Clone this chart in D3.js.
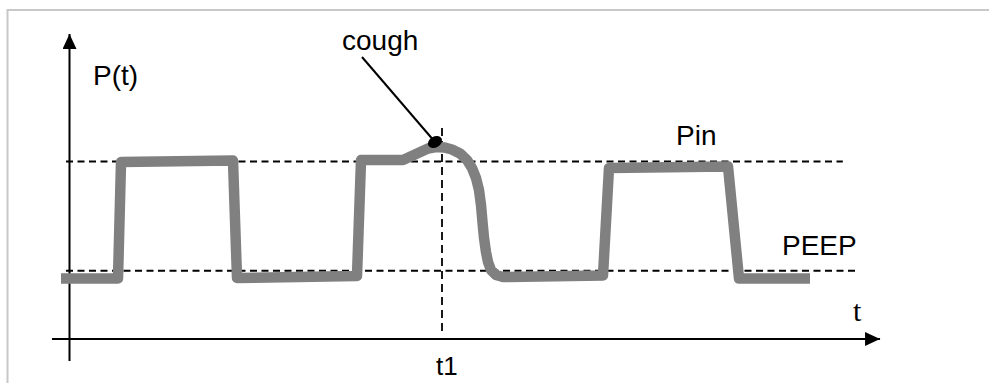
<!DOCTYPE html>
<html>
<head>
<meta charset="utf-8">
<script src="https://cdn.jsdelivr.net/npm/d3@7"></script>
<style>
  html, body { margin: 0; padding: 0; background: #fff; }
  svg { display: block; }
  text { font-family: "Liberation Sans", Arial, sans-serif; fill: #000; }
</style>
</head>
<body>
<svg id="chart" width="989" height="385"></svg>
<script>
// Airway pressure P(t) over time (arbitrary units), with a cough at t1
const signalTime = [-0.228, 1.302, 1.383, 4.389, 4.497, 7.718, 7.826, 8.953,
  9.624, 9.839, 10.054, 10.268, 10.483, 10.671, 10.805, 10.913, 10.993, 11.047,
  11.087, 11.128, 11.181, 11.235, 11.315, 11.450, 11.638,
  14.322, 14.483, 17.678, 17.973, 19.879];
const signalPressure = [4.43, 4.43, 12.96, 13.07, 4.47, 4.61, 13.11, 13.11,
  13.95, 14.06, 14.03, 13.88, 13.59, 13.11, 12.52, 11.79, 10.91, 9.81,
  8.57, 7.40, 6.37, 5.64, 5.05, 4.69, 4.54,
  4.65, 12.52, 12.63, 4.43, 4.43];

// Reference pressure levels
const levelNames = ["Pin", "PEEP"];
const levelValues = [13, 5];
const levelEnds = [20.76, 21.11];

// Cough event
const coughTime = 9.812;
const coughPressure = 14.43;
const t1Time = 10;

// Axis labels
const yAxisLabel = "P(t)";
const xAxisLabel = "t";
const t1Label = "t1";
const coughLabel = "cough";

const svg = d3.select("#chart");

const x = d3.scaleLinear().domain([0, 10]).range([69.5, 442]);
const y = d3.scaleLinear().domain([0, 13]).range([339, 161.5]);

// frame
svg.append("line").attr("x1", 7).attr("x2", 989).attr("y1", 10).attr("y2", 10)
  .attr("stroke", "#c8c8c8").attr("stroke-width", 2);
svg.append("line").attr("x1", 7.5).attr("x2", 7.5).attr("y1", 9).attr("y2", 383)
  .attr("stroke", "#c8c8c8").attr("stroke-width", 2);

// arrowheads
const defs = svg.append("defs");
defs.append("marker").attr("id", "arrow")
  .attr("viewBox", "0 0 15 14").attr("refX", 15).attr("refY", 7)
  .attr("markerWidth", 15).attr("markerHeight", 14)
  .attr("markerUnits", "userSpaceOnUse").attr("orient", "auto")
  .append("path").attr("d", "M0,0L15,7L0,14Z").attr("fill", "#000");

// axes
svg.append("line")
  .attr("x1", x(-0.47)).attr("x2", x(21.76))
  .attr("y1", y(0)).attr("y2", y(0))
  .attr("stroke", "#000").attr("stroke-width", 2)
  .attr("marker-end", "url(#arrow)");
svg.append("line")
  .attr("x1", x(0)).attr("x2", x(0))
  .attr("y1", y(-1.61)).attr("y2", y(22.34))
  .attr("stroke", "#000").attr("stroke-width", 2)
  .attr("marker-end", "url(#arrow)");

// reference levels
levelValues.forEach((v, i) => {
  svg.append("line")
    .attr("x1", x(-0.094)).attr("x2", x(levelEnds[i]))
    .attr("y1", y(v)).attr("y2", y(v))
    .attr("stroke", "#000").attr("stroke-width", 1.8)
    .attr("stroke-dasharray", "7,4.5");
});

// t1 marker
svg.append("line")
  .attr("x1", x(t1Time)).attr("x2", x(t1Time))
  .attr("y1", y(15.45)).attr("y2", y(0.44))
  .attr("stroke", "#000").attr("stroke-width", 1.8)
  .attr("stroke-dasharray", "8,5");

// pressure trace
const pts = signalTime.map((t, i) => [t, signalPressure[i]]);
svg.append("path")
  .datum(pts)
  .attr("d", d3.line().x(d => x(d[0])).y(d => y(d[1])))
  .attr("fill", "none")
  .attr("stroke", "#808080")
  .attr("stroke-width", 10.5)
  .attr("stroke-linejoin", "round")
  .attr("stroke-linecap", "butt");

// cough annotation
const cx = x(coughTime), cy = y(coughPressure);
svg.append("line")
  .attr("x1", 362).attr("y1", 57).attr("x2", cx).attr("y2", cy)
  .attr("stroke", "#000").attr("stroke-width", 2);
svg.append("ellipse")
  .attr("cx", cx).attr("cy", cy).attr("rx", 7.5).attr("ry", 5.5)
  .attr("transform", `rotate(-30 ${cx} ${cy})`)
  .attr("fill", "#000");

// labels
svg.append("text").attr("x", 93).attr("y", 85).attr("font-size", 28).text(yAxisLabel);
svg.append("text").attr("x", 342).attr("y", 50).attr("font-size", 28).text(coughLabel);
svg.append("text").attr("x", 676).attr("y", 145).attr("font-size", 28).text(levelNames[0]);
svg.append("text").attr("x", 782).attr("y", 255).attr("font-size", 28).text(levelNames[1]);
svg.append("text").attr("x", 853).attr("y", 321).attr("font-size", 30)
  .style("font-family", "'Liberation Serif', 'Times New Roman', serif").text(xAxisLabel);
svg.append("text").attr("x", 436).attr("y", 375).attr("font-size", 26).text(t1Label);
</script>
</body>
</html>
